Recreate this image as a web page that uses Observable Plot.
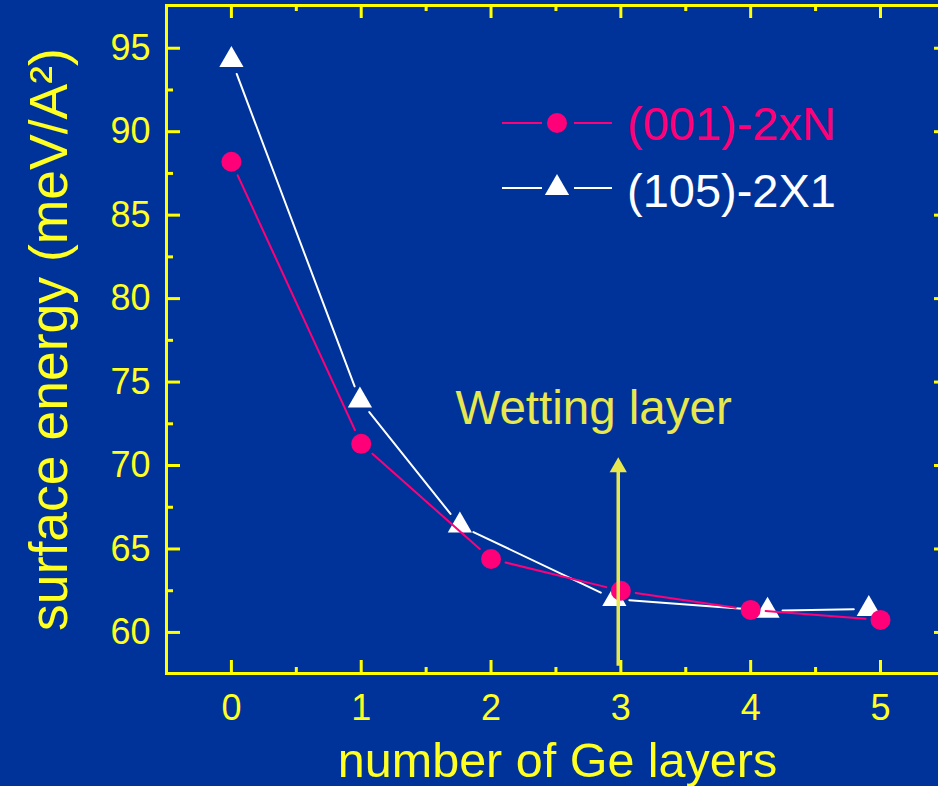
<!DOCTYPE html>
<html><head><meta charset="utf-8">
<script src="https://cdn.jsdelivr.net/npm/d3@7"></script>
<script src="https://cdn.jsdelivr.net/npm/@observablehq/plot@0.6"></script>
<style>
html,body{margin:0;padding:0;background:#003399;overflow:hidden;}
#chart{width:938px;height:786px;position:relative;}
</style></head><body><div id="chart"></div>
<script>
// ---- data ----
const layers001 = [0, 1, 2, 3, 4, 5];
const energy001 = [88.2, 71.3, 64.4, 62.5, 61.35, 60.75];
const layers105 = [0, 0.99, 1.76, 2.95, 4.13, 4.91];
const energy105 = [94.3, 73.9, 66.4, 62.0, 61.3, 61.4];
const xTicks = [0, 1, 2, 3, 4, 5];
const xMinorTicks = [0.5, 1.5, 2.5, 3.5, 4.5];
const yTicks = [60, 65, 70, 75, 80, 85, 90, 95];
const yMinorTicks = [62.5, 67.5, 72.5, 77.5, 82.5, 87.5, 92.5];
const seriesNames = ["(001)-2xN", "(105)-2X1"];
const wettingLabel = "Wetting layer";
const wettingX = 2.98;
const wettingY = [57.97, 69.9];
const wettingLabelPos = [2.79, 73.42];
const xLabel = "number of Ge layers";
const yLabel = "surface energy (meV/A²)";

// ---- style ----
const BG = "#003399", AX = "#ffff00", TXT = "#ffff22", PINK = "#ff0078", WHITE = "#ffffff", WET = "#e8e84e";
const FONT = "Liberation Sans, Arial, sans-serif";

const seg = (xs, ys) => xs.slice(1).map((x, i) => ({x1: xs[i], y1: ys[i], x2: x, y2: ys[i + 1]}));
const pts = (xs, ys) => xs.map((x, i) => ({x, y: ys[i]}));

const W = 938, H = 786, ML = 166, MR = -10, MT = 5, MB = 113;
const PW = W - ML - MR, PH = H - MT - MB;

const plot = Plot.plot({
  width: W, height: H,
  marginLeft: ML, marginRight: MR, marginTop: MT, marginBottom: MB,
  style: {background: BG, fontFamily: FONT, overflow: "hidden"},
  x: {domain: [-0.5, 5.524], axis: null},
  y: {domain: [57.54, 97.56], axis: null},
  marks: [
    Plot.frame({stroke: AX, strokeWidth: 3}),
    // inward ticks
    Plot.ruleY(yTicks, {y: d => d, stroke: AX, strokeWidth: 3, insetRight: PW - 14}),
    Plot.ruleY(yMinorTicks, {y: d => d, stroke: AX, strokeWidth: 3, insetRight: PW - 7}),
    Plot.ruleY(yTicks, {y: d => d, stroke: AX, strokeWidth: 3, insetLeft: PW - 14}),
    Plot.ruleY(yMinorTicks, {y: d => d, stroke: AX, strokeWidth: 3, insetLeft: PW - 7}),
    Plot.ruleX(xTicks, {x: d => d, stroke: AX, strokeWidth: 3, insetTop: PH - 13}),
    Plot.ruleX(xMinorTicks, {x: d => d, stroke: AX, strokeWidth: 3, insetTop: PH - 6}),
    Plot.ruleX(xTicks, {x: d => d, stroke: AX, strokeWidth: 3, insetBottom: PH - 13}),
    Plot.ruleX(xMinorTicks, {x: d => d, stroke: AX, strokeWidth: 3, insetBottom: PH - 6}),
    // tick labels
    Plot.axisY(yTicks, {anchor: "left", tickSize: 0, tickPadding: 16, fontSize: 36, fill: TXT, label: null, tickFormat: d => String(d)}),
    Plot.axisX(xTicks, {anchor: "bottom", tickSize: 0, tickPadding: 21, fontSize: 36, fill: TXT, label: null, tickFormat: d => String(d)}),
    // axis titles
    Plot.text([yLabel], {frameAnchor: "left", dx: -117, rotate: -90, fontSize: 53.5, fill: TXT, lineAnchor: "middle", textAnchor: "middle"}),
    Plot.text([xLabel], {frameAnchor: "bottom", dy: 88, lineAnchor: "middle", textAnchor: "middle", fontSize: 48.5, fill: TXT}),
    // series
    Plot.arrow(seg(layers105, energy105), {x1: "x1", y1: "y1", x2: "x2", y2: "y2", stroke: WHITE, strokeWidth: 2, headLength: 0, inset: 15}),
    Plot.dot(pts(layers105, energy105), {x: "x", y: "y", symbol: "triangle", r: 9, fill: WHITE, stroke: null}),
    Plot.arrow(seg(layers001, energy001), {x1: "x1", y1: "y1", x2: "x2", y2: "y2", stroke: PINK, strokeWidth: 2, headLength: 0, inset: 15}),
    Plot.dot(pts(layers001, energy001), {x: "x", y: "y", symbol: "circle", r: 10, fill: PINK, stroke: null}),
    // wetting layer annotation
    Plot.ruleX([wettingX], {x: d => d, y1: wettingY[0], y2: wettingY[1], stroke: WET, strokeWidth: 3.5}),
    Plot.dot([wettingX], {x: d => d, y: wettingY[1], symbol: "triangle", r: 6.4, fill: WET, stroke: null}),
    Plot.text([wettingLabel], {x: wettingLabelPos[0], y: wettingLabelPos[1], fontSize: 47.5, fill: WET})
  ]
});

// legend (inside plot area, top right)
const svg = d3.select(plot);
const lg = svg.append("g").attr("font-family", FONT).attr("text-anchor", "start");
const legendItems = [
  {name: seriesNames[0], color: PINK, symbol: d3.symbolCircle, size: Math.PI * 100, cy: 123, ty: 140},
  {name: seriesNames[1], color: WHITE, symbol: d3.symbolTriangle, size: Math.PI * 81, cy: 188, ty: 207}
];
legendItems.forEach(it => {
  lg.append("line").attr("x1", 502).attr("x2", 542).attr("y1", it.cy).attr("y2", it.cy).attr("stroke", it.color).attr("stroke-width", 2);
  lg.append("line").attr("x1", 574).attr("x2", 612).attr("y1", it.cy).attr("y2", it.cy).attr("stroke", it.color).attr("stroke-width", 2);
  lg.append("path").attr("d", d3.symbol(it.symbol, it.size)()).attr("transform", `translate(557,${it.cy})`).attr("fill", it.color);
  lg.append("text").attr("x", 627).attr("y", it.ty).attr("font-size", 47).attr("fill", it.color).text(it.name);
});

document.getElementById("chart").appendChild(plot);
</script>
</body></html>
